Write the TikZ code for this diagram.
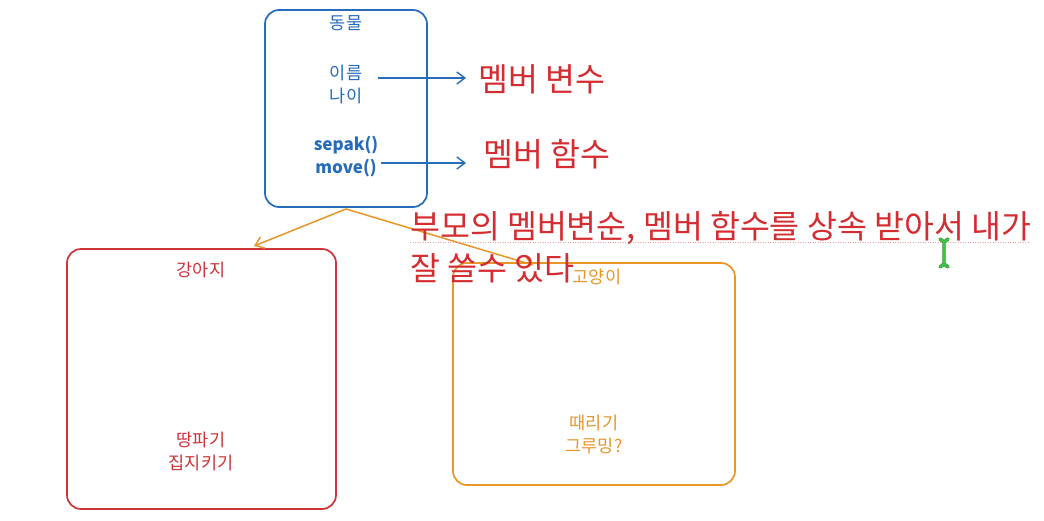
\documentclass[tikz,border=0pt]{standalone}
\usepackage{fontspec}
\setmainfont{Noto Sans CJK KR}
\usetikzlibrary{arrows.meta}
\definecolor{cblue}{RGB}{38,108,188}
\definecolor{cred}{RGB}{212,44,48}
\definecolor{cdog}{RGB}{204,52,56}
\definecolor{corange}{RGB}{232,150,40}
\definecolor{cgreen}{RGB}{60,200,70}
\definecolor{cpink}{RGB}{240,160,160}
\begin{document}
\begin{tikzpicture}[x=1pt,y=-1pt,
  box/.style={draw, line width=1.7pt, rounded corners=14pt, inner sep=0pt},
  small/.style={font=\fontsize{17.5}{23}\selectfont, align=center, inner sep=0pt},
  big/.style={font=\fontsize{32.5}{42}\selectfont, text=cred, inner sep=0pt},
  barb/.style={-{Straight Barb[length=8pt,width=12pt]}, line width=1.4pt},
]
\useasboundingbox[fill=white] (0,0) rectangle (1044,521);

% boxes
\node[box, draw=cblue, minimum width=162pt, minimum height=197pt] (animal) at (346,108.5) {};
\node[box, draw=cdog, minimum width=269pt, minimum height=260pt] (dog) at (201.5,379) {};
\node[box, draw=corange, minimum width=282pt, minimum height=222pt] (cat) at (594,374) {};

% animal texts
\node[small, text=cblue] (tanimal) at (346,23) {동물};
\node[small, text=cblue] (tvars) at (346,84.5) {이름\\나이};
\node[small, text=cblue, font=\fontsize{17}{23}\selectfont\bfseries] (tfuncs) at (346,156.5) {sepak()\\move()};

% member labels
\node[big, anchor=west] (mv) at (478,79) {멤버 변수};
\node[big, anchor=west] (mf) at (483,154) {멤버 함수};

\coordinate (a1s) at (378,78);
\coordinate (a2s) at (381,163);
\draw[barb, cblue] (a1s) -- (466,78);
\draw[barb, cblue] (a2s) -- (466,163);

% dog texts
\node[small, text=cdog] (tdog) at (201,270) {강아지};
\node[small, text=cdog] (tdogf) at (201,451.5) {땅파기\\집지키기};

% cat texts
\node[small, text=corange] (tcat) at (597,277) {고양이};
\node[small, text=corange] (tcatf) at (594,434.5) {때리기\\그루밍?};

% inheritance arrows
\coordinate (src) at (346,209);
\coordinate (dogend) at (254,246);
\coordinate (catend) at (533,265);
\draw[barb, corange, line width=1.5pt] (src) -- (dogend);
\draw[barb, corange, line width=1.5pt] (src) -- (catend);

% spellcheck underline
\draw[cpink, line width=0.9pt, dash pattern=on 1pt off 1.5pt] (410,242) -- (1030,242);

% red note
\node[big, anchor=base west] (note1) at (410,239) {부모의 멤버변순, 멤버 함수를 상속 받아서 내가};
\node[big, anchor=base west] (note2) at (410,281) {잘 쓸수 있다};

% cursor
\draw[cgreen!70!black, line width=3.4pt, line cap=round]
  (940,239) -- (944,242) -- (948,239) (944,242) -- (944,264) (940,267) -- (944,264) -- (948,267);
\draw[cgreen, line width=2pt, line cap=round]
  (940,239) -- (944,242) -- (948,239) (944,242) -- (944,264) (940,267) -- (944,264) -- (948,267);
\end{tikzpicture}
\end{document}
